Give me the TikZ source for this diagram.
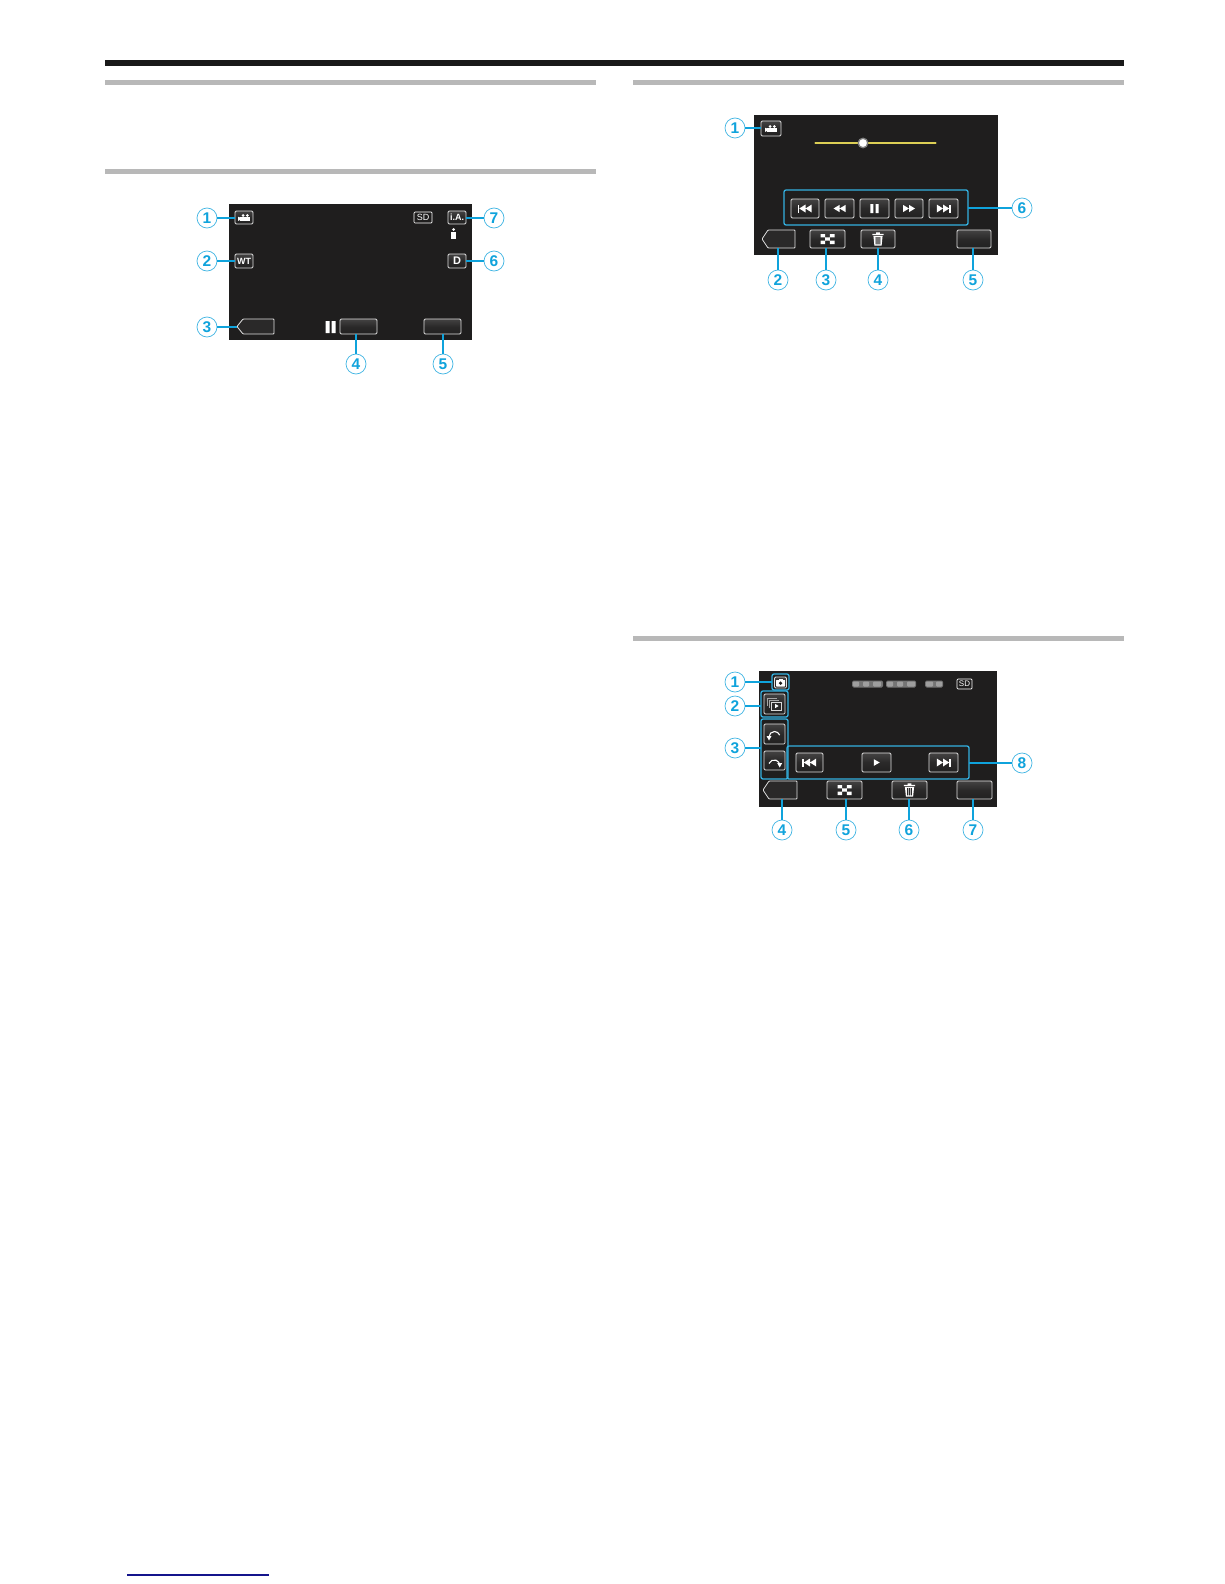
\documentclass[tikz,border=0pt]{standalone}
\usepackage{fontspec}
\setmainfont{Liberation Sans}
\usepackage{tikz}
\definecolor{cy}{HTML}{0FA3DC}
\definecolor{pan}{HTML}{1F1E1E}
\definecolor{btnf}{HTML}{2A2929}
\definecolor{yel}{HTML}{DCCF55}
\definecolor{navy}{HTML}{14148C}
\tikzset{
  x=1pt,y=-1pt,
  panel/.style={fill=pan,draw=none},
  btn/.style={draw=white!88!black,line width=.8pt,top color=btnf!88!white,bottom color=btnf!80!black,middle color=btnf,rounded corners=1.2pt,inner sep=0pt,outer sep=0pt},
  ghost/.style={draw=none,inner sep=0pt,outer sep=0pt},
  num/.style={circle,draw=cy!80!white,line width=.7pt,fill=white,text=cy,minimum size=20pt,inner sep=0pt,font=\fontsize{15.5}{15.5}\selectfont\bfseries},
  lead/.style={draw=cy,line width=1.7pt},
  grp/.style={draw=cy!85!white,line width=1.3pt,rounded corners=2pt,inner sep=0pt,outer sep=0pt},
  sec/.style={fill=black!28,draw=none},
}
\newcommand{\bx}[6][btn]{\node[#1,minimum width={(#5-#3)*1pt},minimum height={(#6-#4)*1pt}] (#2) at ({(#3+#5)/2},{(#4+#6)/2}) {};}
\newcommand{\backbtn}[5]{%
  \node[ghost,minimum width={(#4-#2)*1pt},minimum height={(#5-#3)*1pt}] (#1) at ({(#2+#4)/2},{(#3+#5)/2}) {};
  \draw[draw=white!88!black,line width=.8pt,fill=btnf,rounded corners=.8pt] (#2+6,#3) -- (#4,#3) -- (#4,#5) -- (#2+6,#5) -- (#2,{(#3+#5)/2}) -- cycle;}
\newcommand{\icocam}[1]{\begin{scope}[shift={(#1)}]
  \fill[white] (-3.6,-.8) rectangle (6,3.6);
  \fill[white] (-1,-2) circle (1.5) (3.4,-2) circle (1.5);
  \fill[white] (-3.6,.2) -- (-6,-.8) -- (-6,3.4) -- (-3.6,2.2) -- cycle;
  \end{scope}}
\newcommand{\icoskipb}[1]{\begin{scope}[shift={(#1)}]
  \fill[white] (-7.5,-4) rectangle (-5.7,4);
  \fill[white] (-5.7,0) -- (.5,-4) -- (.5,4) -- cycle (.5,0) -- (6.7,-4) -- (6.7,4) -- cycle;
  \end{scope}}
\newcommand{\icoskipf}[1]{\begin{scope}[shift={(#1)}]
  \fill[white] (7.5,-4) rectangle (5.7,4);
  \fill[white] (5.7,0) -- (-.5,-4) -- (-.5,4) -- cycle (-.5,0) -- (-6.7,-4) -- (-6.7,4) -- cycle;
  \end{scope}}
\newcommand{\icorew}[1]{\begin{scope}[shift={(#1)}]
  \fill[white] (-6,0) -- (0,-3.6) -- (0,3.6) -- cycle (0,0) -- (6,-3.6) -- (6,3.6) -- cycle;
  \end{scope}}
\newcommand{\icoff}[1]{\begin{scope}[shift={(#1)}]
  \fill[white] (6,0) -- (0,-3.6) -- (0,3.6) -- cycle (0,0) -- (-6,-3.6) -- (-6,3.6) -- cycle;
  \end{scope}}
\newcommand{\icopause}[1]{\begin{scope}[shift={(#1)}]
  \fill[white] (-4.2,-4.5) rectangle (-1.2,4.5) (1.2,-4.5) rectangle (4.2,4.5);
  \end{scope}}
\newcommand{\icoplay}[1]{\begin{scope}[shift={(#1)}]
  \fill[white] (-2.6,-3.3) -- (3.2,0) -- (-2.6,3.3) -- cycle;
  \end{scope}}
\newcommand{\icogrid}[1]{\begin{scope}[shift={(#1)}]
  \fill[white] (-7,-5) rectangle (-2.4,-1.7) (2.4,-5) rectangle (7,-1.7)
   (-2.4,-1.7) rectangle (2.4,1.7)
   (-7,1.7) rectangle (-2.4,5) (2.4,1.7) rectangle (7,5);
  \end{scope}}
\newcommand{\icotrash}[1]{\begin{scope}[shift={(#1)}]
  \fill[white] (-5.6,-5.2) rectangle (5.6,-4) (-1.8,-6.6) rectangle (1.8,-5.2);
  \fill[white] (-4.6,-3.2) -- (4.6,-3.2) -- (3.6,6.6) -- (-3.6,6.6) -- cycle;
  \fill[btnf] (-2.4,-2) rectangle (-1.3,5.4) (-.55,-2) rectangle (.55,5.4) (1.3,-2) rectangle (2.4,5.4);
  \end{scope}}
\begin{document}
\begin{tikzpicture}
\useasboundingbox[fill=white] (0,0) rectangle (1224,1584);
% page rules
\fill[black!90] (105,60) rectangle (1124,66);
\fill[sec] (105,80) rectangle (596,85);
\fill[sec] (105,169) rectangle (596,174);
\fill[sec] (633,80) rectangle (1124,85);
\fill[sec] (633,636) rectangle (1124,641);
\draw[navy,line width=1.4pt] (127,1575) -- (269,1575);

%% ---------- Panel A ----------
\fill[panel] (229,204) rectangle (472,340);
\bx{a1}{235}{211}{253}{224}
\icocam{a1.center}
\bx{a2}{235}{254}{253}{268}
\node[text=white,font=\fontsize{9}{9}\selectfont\bfseries] (a2t) at (a2.center) {WT};
\bx[ghost,draw=white,line width=.7pt,rounded corners=1pt]{asd}{414}{212}{432}{223}
\node[text=white,font=\fontsize{9}{9}\selectfont] (asdt) at (asd.center) {SD};
\bx{a7}{448}{211}{466}{224}
\node[text=white,font=\fontsize{9}{9}\selectfont\bfseries] (a7t) at (a7.center) {i.A.};
\bx{a6}{448}{254}{466}{268}
\node[text=white,font=\fontsize{11}{11}\selectfont\bfseries] (a6t) at (a6.center) {D};
\fill[white] (453.5,229.5) circle (1.5);
\fill[white] (451.3,232) rectangle (455.7,239);
\backbtn{a3}{237}{319}{274}{334}
\bx{a4}{340}{319}{377}{334}
\bx{a5}{424}{319}{461}{334}
\fill[white] (325.5,321) rectangle (329.5,333) (331.5,321) rectangle (335.5,333);
\node[num] (na1) at (207,218) {1};
\node[num] (na2) at (207,261) {2};
\node[num] (na3) at (207,327) {3};
\node[num] (na4) at (356,364) {4};
\node[num] (na5) at (443,364) {5};
\node[num] (na6) at (494,261) {6};
\node[num] (na7) at (494,218) {7};
\draw[lead] (na1) -- (na1 -| a1.west);
\draw[lead] (na2) -- (na2 -| a2.west);
\draw[lead] (na3) -- (na3 -| a3.west);
\draw[lead] (na4) -- (na4 |- a4.south);
\draw[lead] (na5) -- (na5 |- a5.south);
\draw[lead] (na6) -- (na6 -| a6.east);
\draw[lead] (na7) -- (na7 -| a7.east);

%% ---------- Panel B ----------
\fill[panel] (754,115) rectangle (998,255);
\bx{b1}{761}{121}{781}{136}
\icocam{b1.center}
\node[ghost] (bs1) at (815,143) {};
\node[ghost] (bs2) at (936,143) {};
\draw[yel,line width=2.2pt,line cap=round] (bs1) -- (bs2);
\node[circle,fill=white,draw=black!50,line width=1.3pt,minimum size=9.5pt,inner sep=0pt] (bk) at (863,143) {};
\bx[grp]{b6}{784}{190}{968}{225}
\bx{bt1}{791}{199}{819}{218} \icoskipb{bt1.center}
\bx{bt2}{825}{199}{854}{218} \icorew{bt2.center}
\bx{bt3}{860}{199}{889}{218} \icopause{bt3.center}
\bx{bt4}{895}{199}{923}{218} \icoff{bt4.center}
\bx{bt5}{929}{199}{958}{218} \icoskipf{bt5.center}
\backbtn{b2}{762}{230}{795}{248}
\bx{b3}{810}{230}{845}{248} \icogrid{b3.center}
\bx{b4}{861}{230}{895}{248} \icotrash{b4.center}
\bx{b5}{957}{230}{991}{248}
\node[num] (nb1) at (735,128) {1};
\node[num] (nb2) at (778,280) {2};
\node[num] (nb3) at (826,280) {3};
\node[num] (nb4) at (878,280) {4};
\node[num] (nb5) at (973,280) {5};
\node[num] (nb6) at (1022,208) {6};
\draw[lead] (nb1) -- (nb1 -| b1.west);
\draw[lead] (nb2) -- (nb2 |- b2.south);
\draw[lead] (nb3) -- (nb3 |- b3.south);
\draw[lead] (nb4) -- (nb4 |- b4.south);
\draw[lead] (nb5) -- (nb5 |- b5.south);
\draw[lead] (nb6) -- (nb6 -| b6.east);

%% ---------- Panel C ----------
\fill[panel] (759,671) rectangle (997,807);
% blurred date/time
\foreach \xa/\xb in {852/883,886/916,925/943}
  \fill[white!38!pan,rounded corners=1.5pt] (\xa,680.5) rectangle (\xb,687.5);
\foreach \xa/\xb in {853/859,863/869,873/881,887/893,897/903,907/915,926/933,936/942}
  \fill[white!62!black,rounded corners=1pt] (\xa,681.5) rectangle (\xb,686.5);
\bx[ghost,draw=white,line width=.7pt,rounded corners=1pt]{csd}{957}{679}{972}{689}
\node[text=white,font=\fontsize{8}{8}\selectfont] (csdt) at (csd.center) {SD};
\bx[grp]{c1}{772}{674}{789}{690}
\bx{c1i}{774.5}{677}{786.5}{688}
\fill[white,rounded corners=.5pt] (776,680) rectangle (785,686.5);
\fill[white] (778.5,678.8) rectangle (782.5,680.5);
\fill[pan] (780.5,683.2) circle (1.8);
\bx[grp]{c2}{761}{691}{788}{717}
\bx{c2i}{764}{694}{785}{714}
\draw[white!65!black,line width=.7pt] (767.5,706) -- (767.5,698) -- (777,698) (769.5,708) -- (769.5,700) -- (779,700);
\draw[white!85!black,line width=.7pt,fill=btnf] (771.5,702) rectangle (781.5,710);
\fill[white] (775,703.8) -- (778.6,706) -- (775,708.2) -- cycle;
\bx[grp]{c3}{761}{719}{788}{779}
\bx{c3a}{764}{724}{785}{744}
\bx{c3b}{764}{751}{785}{770}
\draw[white,line width=1.1pt] (769,737) arc (180:340:5.5);
\fill[white] (766.5,736) -- (771.5,736) -- (769,740.5) -- cycle;
\draw[white,line width=1.1pt] (769,763.5) arc (200:360:5.5);
\fill[white] (777.2,763) -- (782.2,763) -- (779.7,767.5) -- cycle;
\bx[grp]{c8}{787}{746}{969}{779}
\bx{ct1}{796}{753}{823}{772} \icoskipb{ct1.center}
\bx{ct2}{862}{753}{891}{772} \icoplay{ct2.center}
\bx{ct3}{929}{753}{958}{772} \icoskipf{ct3.center}
\backbtn{c4}{763}{781}{797}{799}
\bx{c5}{827}{781}{862}{799} \icogrid{c5.center}
\bx{c6}{892}{781}{927}{799} \icotrash{c6.center}
\bx{c7}{957}{781}{992}{799}
\node[num] (nc1) at (735,682) {1};
\node[num] (nc2) at (735,706) {2};
\node[num] (nc3) at (735,748) {3};
\node[num] (nc4) at (782,830) {4};
\node[num] (nc5) at (846,830) {5};
\node[num] (nc6) at (909,830) {6};
\node[num] (nc7) at (973,830) {7};
\node[num] (nc8) at (1022,763) {8};
\draw[lead] (nc1) -- (nc1 -| c1.west);
\draw[lead] (nc2) -- (nc2 -| c2.west);
\draw[lead] (nc3) -- (nc3 -| c3.west);
\draw[lead] (nc4) -- (nc4 |- c4.south);
\draw[lead] (nc5) -- (nc5 |- c5.south);
\draw[lead] (nc6) -- (nc6 |- c6.south);
\draw[lead] (nc7) -- (nc7 |- c7.south);
\draw[lead] (nc8) -- (nc8 -| c8.east);
\end{tikzpicture}
\end{document}
